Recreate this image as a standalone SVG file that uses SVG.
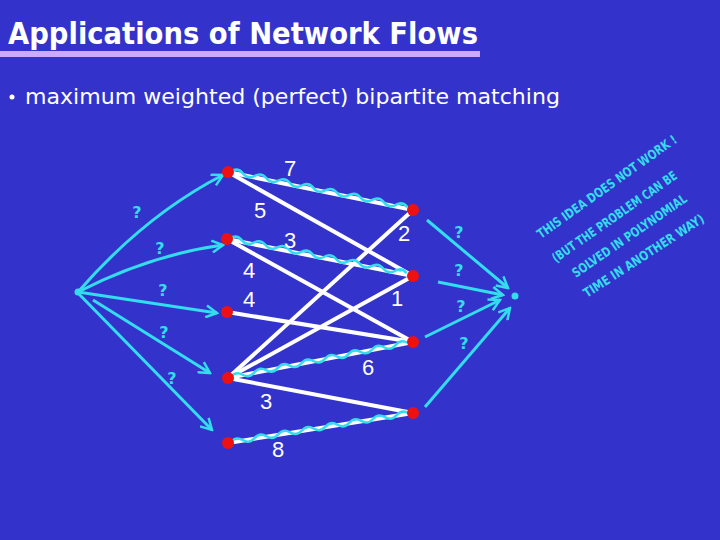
<svg xmlns="http://www.w3.org/2000/svg" xmlns:xlink="http://www.w3.org/1999/xlink" width="720" height="540" viewBox="0 0 720 540">
<defs>
<style>
.title{font-family:"DejaVu Sans","Liberation Sans",sans-serif;font-size:31px;font-weight:bold;fill:#ffffff;}
.bullet{font-family:"DejaVu Sans","Liberation Sans",sans-serif;font-size:21px;fill:#ffffff;}
.num{font-family:"Liberation Sans","DejaVu Sans",sans-serif;font-size:22px;fill:#ffffff;text-anchor:middle;}
.q{font-family:"DejaVu Sans",sans-serif;font-size:16px;font-weight:bold;fill:#33ddee;text-anchor:middle;}
.hand{font-family:"DejaVu Sans Condensed","DejaVu Sans",sans-serif;font-size:13px;font-weight:bold;fill:#33ddee;}
.edge{stroke:#ffffff;stroke-width:4;fill:none;stroke-linecap:round;}
.wave{stroke:#33ddee;stroke-width:2.5;fill:none;}
.arrow{stroke:#33ddee;stroke-width:3;fill:none;marker-end:url(#ah);}
.node{fill:#ee1111;}
.term{fill:#33ddee;}
</style>
<marker id="ah" markerUnits="userSpaceOnUse" markerWidth="14" markerHeight="14" refX="12" refY="7" orient="auto">
<path d="M1,1 L12,7 L1,13" fill="none" stroke="#33ddee" stroke-width="2.5"/>
</marker>
<path id="wave" d="M0,-1 q6,-5 12,0 t12,0 t12,0 t12,0 t12,0 t12,0 t12,0 t12,0 t12,0 t12,0 t12,0 t12,0 t12,0 t12,0 t12,0"/>
</defs>
<rect width="720" height="540" fill="#3333cc"/>
<g id="title">
<text class="title" x="8" y="44" textLength="470" lengthAdjust="spacingAndGlyphs">Applications of Network Flows</text>
<rect x="0" y="51" width="480" height="6" fill="#ccaaff"/>
</g>
<g id="bullet">
<circle cx="12" cy="97" r="2.5" fill="#ffffff"/>
<text class="bullet" x="25" y="104" textLength="535" lengthAdjust="spacingAndGlyphs">maximum weighted (perfect) bipartite matching</text>
</g>
<g id="connectors">
<line class="edge" x1="228" y1="172" x2="413" y2="210"/>
<line class="edge" x1="228" y1="172" x2="413" y2="276"/>
<line class="edge" x1="227" y1="239" x2="413" y2="276"/>
<line class="edge" x1="227" y1="239" x2="413" y2="342"/>
<line class="edge" x1="227" y1="312" x2="413" y2="342"/>
<line class="edge" x1="228" y1="378" x2="413" y2="210"/>
<line class="edge" x1="228" y1="378" x2="413" y2="276"/>
<line class="edge" x1="228" y1="378" x2="413" y2="342"/>
<line class="edge" x1="228" y1="378" x2="413" y2="413"/>
<line class="edge" x1="228" y1="443" x2="413" y2="413"/>
<use href="#wave" xlink:href="#wave" class="wave" transform="translate(231,172) rotate(11.6)"/>
<use href="#wave" xlink:href="#wave" class="wave" transform="translate(230,239) rotate(11.25)"/>
<use href="#wave" xlink:href="#wave" class="wave" transform="translate(231,378) rotate(-11)"/>
<use href="#wave" xlink:href="#wave" class="wave" transform="translate(231,443) rotate(-9.2)"/>
<path class="arrow" d="M78,292 Q145,215 223,175"/>
<path class="arrow" d="M78,292 Q150,255 223,245"/>
<path class="arrow" d="M78,292 L217,313"/>
<path class="arrow" d="M93,300 L210,373"/>
<path class="arrow" d="M78,293 L212,430"/>
<path class="arrow" d="M427,220 L508,288"/>
<path class="arrow" d="M438,282 L503,295"/>
<path class="arrow" d="M425,337 L500,300"/>
<path class="arrow" d="M425,407 L510,308"/>
</g>
<g id="edge-labels">
<text class="num" x="290" y="176">7</text>
<text class="num" x="260" y="218">5</text>
<text class="num" x="290" y="248">3</text>
<text class="num" x="249" y="278">4</text>
<text class="num" x="249" y="307">4</text>
<text class="num" x="404" y="241">2</text>
<text class="num" x="397" y="306">1</text>
<text class="num" x="368" y="375">6</text>
<text class="num" x="266" y="409">3</text>
<text class="num" x="278" y="457">8</text>
</g>
<g id="flow-labels">
<text class="q" x="137" y="218">?</text>
<text class="q" x="160" y="254">?</text>
<text class="q" x="163" y="296">?</text>
<text class="q" x="164" y="338">?</text>
<text class="q" x="172" y="384">?</text>
<text class="q" x="459" y="238">?</text>
<text class="q" x="459" y="276">?</text>
<text class="q" x="461" y="312">?</text>
<text class="q" x="464" y="349">?</text>
</g>
<g id="source"><circle class="term" cx="78" cy="292" r="3.5"/></g>
<g id="sink"><circle class="term" cx="515" cy="296" r="3.5"/></g>
<g id="L1"><circle class="node" cx="228" cy="172" r="6"/></g>
<g id="L2"><circle class="node" cx="227" cy="239" r="6"/></g>
<g id="L3"><circle class="node" cx="227" cy="312" r="6"/></g>
<g id="L4"><circle class="node" cx="228" cy="378" r="6"/></g>
<g id="L5"><circle class="node" cx="228" cy="443" r="6"/></g>
<g id="R1"><circle class="node" cx="413" cy="210" r="6"/></g>
<g id="R2"><circle class="node" cx="413" cy="276" r="6"/></g>
<g id="R3"><circle class="node" cx="413" cy="342" r="6"/></g>
<g id="R4"><circle class="node" cx="413" cy="413" r="6"/></g>
<g id="note">
<text class="hand" transform="translate(541,239) rotate(-35.4)" textLength="168" lengthAdjust="spacingAndGlyphs">THIS IDEA DOES NOT WORK !</text>
<text class="hand" transform="translate(556,263) rotate(-34.9)" textLength="149" lengthAdjust="spacingAndGlyphs">(BUT THE PROBLEM CAN BE</text>
<text class="hand" transform="translate(576,278) rotate(-34.5)" textLength="136" lengthAdjust="spacingAndGlyphs">SOLVED IN POLYNOMIAL</text>
<text class="hand" transform="translate(587,298) rotate(-33)" textLength="141" lengthAdjust="spacingAndGlyphs">TIME IN ANOTHER WAY)</text>
</g>
</svg>
